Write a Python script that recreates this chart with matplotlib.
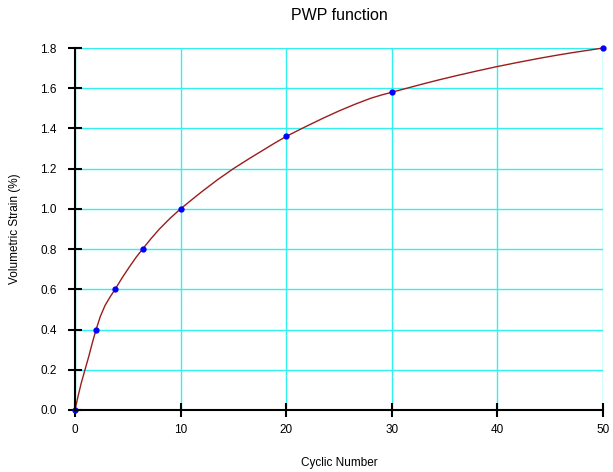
import matplotlib

matplotlib.use("Agg")
import matplotlib.pyplot as plt

plt.rcParams['font.family'] = ['Liberation Sans', 'DejaVu Sans']

# measured data points
cycles = [0, 2, 3.8, 6.4, 10, 20, 30, 50]
strain = [0.0, 0.40, 0.60, 0.80, 1.00, 1.36, 1.58, 1.80]

# fitted curve vertices
curve_x = [0, 0.3, 0.6, 0.95, 1.3, 1.65, 2, 2.4, 2.85, 3.3, 3.8, 4.5, 5.2,
           5.8, 6.4, 7.2, 8, 9, 10, 11, 12, 13.5, 15, 16.5, 18, 19, 20, 21,
           22, 23.5, 25, 26.5, 28, 29, 30, 31.5, 33, 34.5, 36, 38, 40, 42,
           44, 45.5, 47, 48.5, 50]
curve_y = [0.0, 0.07, 0.135, 0.20, 0.265, 0.335, 0.40, 0.465, 0.52, 0.56,
           0.60, 0.66, 0.715, 0.76, 0.80, 0.852, 0.90, 0.953, 1.00, 1.043,
           1.085, 1.145, 1.20, 1.25, 1.298, 1.33, 1.36, 1.387, 1.413, 1.451,
           1.487, 1.52, 1.55, 1.566, 1.58, 1.601, 1.622, 1.642, 1.661,
           1.685, 1.708, 1.729, 1.749, 1.763, 1.776, 1.788, 1.80]

fig = plt.figure(figsize=(6.13, 4.72), dpi=100)
ax = fig.add_axes([0.1223, 0.1314, 0.8614, 0.7669])

ax.plot(curve_x, curve_y, color='#9b1c1c', lw=1.0, zorder=3, clip_on=False)
ax.plot(cycles, strain, 'o', color='#0000ff', ms=3.5, zorder=4, clip_on=False)

ax.set_xlim(0, 50)
ax.set_ylim(0, 1.8)
ax.set_xticks([0, 10, 20, 30, 40, 50])
ax.set_yticks([0.0, 0.2, 0.4, 0.6, 0.8, 1.0, 1.2, 1.4, 1.6, 1.8])
ax.set_yticklabels([f'{v:.1f}' for v in ax.get_yticks()])

ax.grid(True, color='#33f0f0', lw=1.0)
ax.set_axisbelow(True)
for side in ('top', 'right'):
    ax.spines[side].set_visible(False)
for side in ('left', 'bottom'):
    ax.spines[side].set_linewidth(1.5)
    ax.spines[side].set_zorder(5)

ax.tick_params(direction='inout', length=10, width=1.5, labelsize=8.5)
ax.tick_params(axis='x', pad=5)
ax.tick_params(axis='y', pad=8)

ax.set_title('PWP function', fontsize=11.5, pad=20)
ax.set_xlabel('Cyclic Number', fontsize=8.5, labelpad=15)
ax.set_ylabel('Volumetric Strain (%)', fontsize=8.5, labelpad=14)

fig.savefig('out.png', dpi=100, facecolor='white')
